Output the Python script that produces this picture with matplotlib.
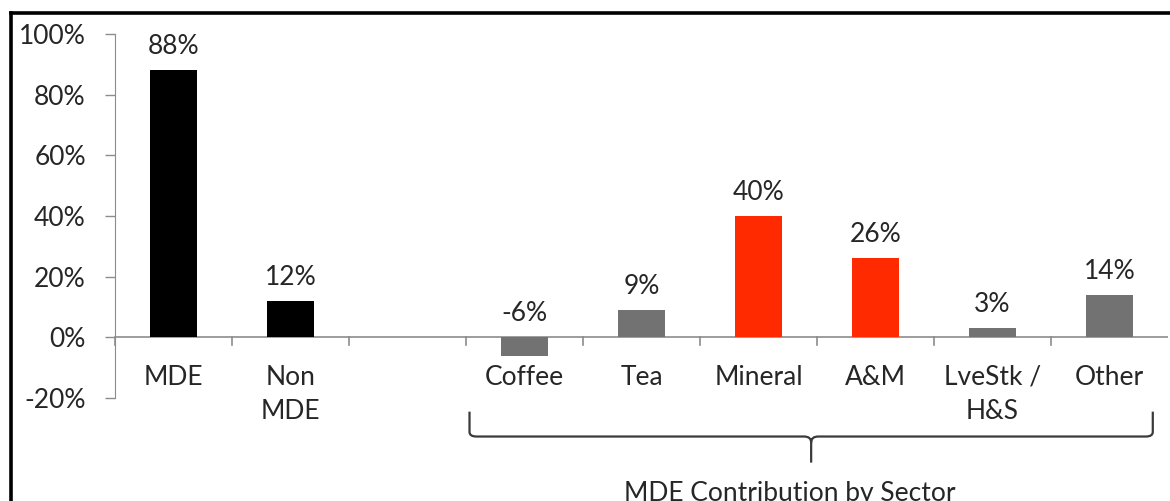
import matplotlib.pyplot as plt
import numpy as np
from matplotlib.path import Path
from matplotlib.patches import PathPatch
from matplotlib.lines import Line2D

# categories (an empty slot separates the totals from the sectors)
categories = ["MDE", "Non\nMDE", "", "Coffee", "Tea", "Mineral", "A&M", "LveStk /\nH&S", "Other"]
values = [88, 12, None, -6, 9, 40, 26, 3, 14]
bar_colors = ["#000000", "#000000", None, "#727272", "#727272", "#ff2a00", "#ff2a00", "#727272", "#727272"]
y_ticks = [-20, 0, 20, 40, 60, 80, 100]
group_label = "MDE Contribution by Sector"

plt.rcParams['font.family'] = ['Lato', 'DejaVu Sans']
text_color = "#262626"
axis_color = "#8c8c8c"
fs = 19

fig = plt.figure(figsize=(11.7, 5.01), dpi=100)
W, H = 1170, 501
ax = fig.add_axes([115 / W, (H - 398) / H, (1168 - 115) / W, (398 - 34) / H])

x = np.arange(len(categories))
for i, (v, c) in enumerate(zip(values, bar_colors)):
    if v is None:
        continue
    ax.bar(x[i], v, width=0.4, color=c, zorder=3)
    ax.annotate(f"{v}%", (x[i], max(v, 0)), xytext=(0, 8), textcoords="offset points",
                ha="center", va="bottom", fontsize=fs, color=text_color)

# category labels sit just under the zero line
for i, lab in enumerate(categories):
    ax.text(x[i], -9.0, lab, ha="center", va="top", fontsize=fs, color=text_color,
            linespacing=1.45)

ax.set_xlim(-0.5, len(categories) - 0.5)
ax.set_ylim(-20, 100)

# y axis
ax.set_yticks(y_ticks)
ax.set_yticklabels([f"{t}%" for t in y_ticks], fontsize=fs, color=text_color)
ax.tick_params(axis="y", direction="out", length=7, width=1, color=axis_color, pad=14)
ax.spines["left"].set_color(axis_color)
ax.spines["left"].set_bounds(-20, 100)
for s in ["top", "right", "bottom"]:
    ax.spines[s].set_visible(False)

# x axis drawn at zero with boundary ticks
ax.set_xticks([])
ax.axhline(0, color=axis_color, lw=1.2, zorder=2)
for b in np.arange(-0.5, len(categories) - 0.4, 1.0)[:-1]:
    ax.plot([b, b], [-2.5, 0], color=axis_color, lw=1.2, zorder=2, clip_on=False)

# brace under the sector group
xl, xr, xm = 2.53, 8.37, 5.45
yt, yh, ytip = -24.5, -32.7, -41.3
r = 0.06
verts = [(xl, yt), (xl, yh + 1.5), (xl, yh), (xl + r, yh),
         (xm - r, yh), (xm, yh), (xm, yh - 2.0), (xm, ytip)]
codes = [Path.MOVETO, Path.LINETO, Path.CURVE3, Path.CURVE3,
         Path.LINETO, Path.CURVE3, Path.CURVE3, Path.LINETO]
verts += [(xm, yh - 2.0), (xm, yh), (xm + r, yh), (xr - r, yh), (xr, yh), (xr, yh + 1.5), (xr, yt)]
codes += [Path.MOVETO, Path.CURVE3, Path.CURVE3, Path.LINETO, Path.CURVE3, Path.CURVE3, Path.LINETO]
ax.add_patch(PathPatch(Path(verts, codes), fill=False, edgecolor="#3a3a3a", lw=1.6, clip_on=False))
ax.text(5.27, -47.5, group_label, ha="center", va="top", fontsize=fs, color=text_color, clip_on=False)

# outer frame
fig.add_artist(Line2D([10.5 / W, 10.5 / W], [0, (H - 13) / H], color="black", lw=2.6))
fig.add_artist(Line2D([10.5 / W, 1], [(H - 13) / H, (H - 13) / H], color="black", lw=2.6))

fig.savefig("out.png", dpi=100)
